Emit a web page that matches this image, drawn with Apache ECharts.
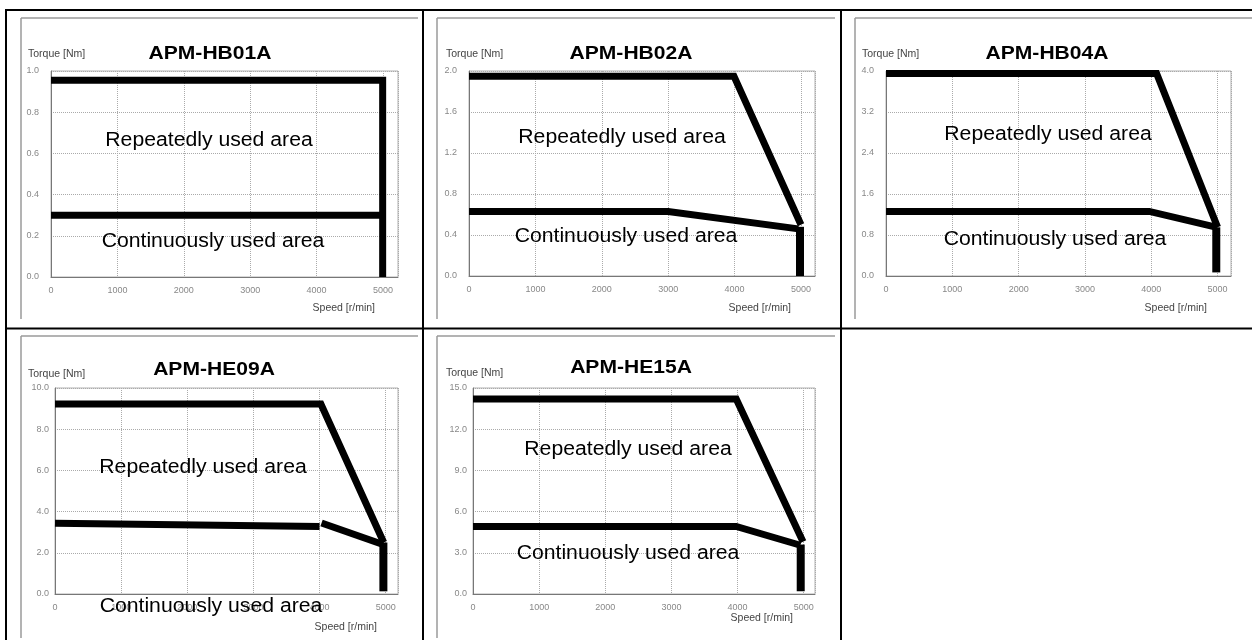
<!DOCTYPE html>
<html>
<head>
<meta charset="utf-8">
<script src="https://cdn.jsdelivr.net/npm/echarts@6/dist/echarts.min.js"></script>
<style>
html,body{margin:0;padding:0;background:#fff;}
#chart{width:1252px;height:640px;}
</style>
</head>
<body>
<div id="chart"></div>
<script>
// ---- data ----
const modelNames = ['APM-HB01A', 'APM-HB02A', 'APM-HB04A', 'APM-HE09A', 'APM-HE15A'];
const torqueMax = [1.0, 2.0, 4.0, 10.0, 15.0];
const torqueInterval = [0.2, 0.4, 0.8, 2.0, 3.0];
const speedInterval = 1000;
const speedTickValues = [0, 1000, 2000, 3000, 4000, 5000];
const yAxisTitle = 'Torque [Nm]';
const xAxisTitle = 'Speed [r/min]';
const repeatedLabel = 'Repeatedly used area';
const continuousLabel = 'Continuously used area';

const hb01Repeated = [[0, 0.955], [4995, 0.955], [4995, 0]];
const hb01Continuous = [[0, 0.30], [4995, 0.30]];

const hb02Repeated = [[0, 1.95], [3990, 1.95], [5000, 0.50]];
const hb02Continuous = [[0, 0.63], [3000, 0.63], [4960, 0.46]];
const hb02Limit = [[4985, 0.48], [4985, 0]];

const hb04Repeated = [[0, 3.95], [4080, 3.95], [5000, 0.95]];
const hb04Continuous = [[0, 1.26], [3970, 1.26], [4990, 0.95]];
const hb04Limit = [[4980, 0.95], [4980, 0.07]];

const he09Repeated = [[0, 9.22], [4020, 9.22], [4970, 2.5]];
const he09Continuous = [[0, 3.43], [4000, 3.28]];
const he09ContinuousDrop = [[4030, 3.45], [4960, 2.4]];
const he09Limit = [[4965, 2.5], [4965, 0.13]];

const he15Repeated = [[0, 14.2], [3980, 14.2], [4990, 3.8]];
const he15Continuous = [[0, 4.92], [3980, 4.92], [4950, 3.55]];
const he15Limit = [[4955, 3.6], [4955, 0.2]];

const chartSeries = [
  [hb01Repeated, hb01Continuous],
  [hb02Repeated, hb02Continuous, hb02Limit],
  [hb04Repeated, hb04Continuous, hb04Limit],
  [he09Repeated, he09Continuous, he09ContinuousDrop, he09Limit],
  [he15Repeated, he15Continuous, he15Limit]
];

// ---- layout (pixels) ----
const grids = [
  {left: 51, top: 71, width: 347, height: 206, xMax: 5226, yMargin: 12},
  {left: 469, top: 71, width: 346, height: 205, xMax: 5211, yMargin: 12},
  {left: 886, top: 71, width: 345, height: 205, xMax: 5202, yMargin: 12},
  {left: 55, top: 388, width: 343, height: 206, xMax: 5186, yMargin: 6},
  {left: 473, top: 388, width: 342, height: 206, xMax: 5171, yMargin: 6}
];
const titlePos = [[210, 54], [631, 54], [1047, 54], [214, 370], [631, 368]];
const yTitlePos = [[28, 54], [446, 54], [862, 54], [28, 374], [446, 373]];
const xTitlePos = [[375, 308], [791, 308], [1207, 308], [377, 627], [793, 618]];
const repPos = [[209, 140], [622, 137], [1048, 134], [203, 467], [628, 449]];
const contPos = [[213, 241], [626, 236], [1055, 239], [211, 606], [628, 553]];

const FONT = '"Liberation Sans", Arial, sans-serif';

const option = {
  animation: false,
  backgroundColor: '#fff',
  grid: [], xAxis: [], yAxis: [], series: [], graphic: []
};

grids.forEach((g, i) => {
  option.grid.push({left: g.left, top: g.top, width: g.width, height: g.height,
    show: true, borderColor: '#b0b0b0', borderWidth: 1, containLabel: false});
  option.xAxis.push({
    type: 'value', gridIndex: i, min: 0, max: g.xMax, interval: speedInterval,
    axisLine: {show: true, onZero: false, lineStyle: {color: '#777', width: 1}},
    axisTick: {show: false},
    axisLabel: {fontSize: 9, color: '#888', margin: 9, fontFamily: FONT,
      formatter: v => speedTickValues.indexOf(v) >= 0 ? String(v) : ''},
    splitLine: {show: true, lineStyle: {type: 'dotted', color: '#aaa', width: 1}}
  });
  option.yAxis.push({
    type: 'value', gridIndex: i, min: 0, max: torqueMax[i], interval: torqueInterval[i],
    axisLine: {show: true, onZero: false, lineStyle: {color: '#777', width: 1}},
    axisTick: {show: false},
    axisLabel: {fontSize: 9, color: '#888', margin: g.yMargin, fontFamily: FONT,
      formatter: v => v.toFixed(1)},
    splitLine: {show: true, lineStyle: {type: 'dotted', color: '#aaa', width: 1}}
  });
  chartSeries[i].forEach(d => {
    const vertical = d.length === 2 && d[0][0] === d[1][0];
    option.series.push({
      type: 'line', xAxisIndex: i, yAxisIndex: i, data: d,
      showSymbol: false, symbol: 'none', clip: false, silent: true,
      lineStyle: {color: '#000', width: vertical ? 8 : 7, join: 'miter', cap: 'butt'}
    });
  });
});

const G = option.graphic;
// table borders
const black = {stroke: '#000', lineWidth: 2};
G.push({type: 'line', shape: {x1: 5, y1: 10, x2: 1252, y2: 10}, style: black});
G.push({type: 'line', shape: {x1: 6, y1: 10, x2: 6, y2: 640}, style: black});
G.push({type: 'line', shape: {x1: 423, y1: 10, x2: 423, y2: 640}, style: black});
G.push({type: 'line', shape: {x1: 841, y1: 10, x2: 841, y2: 640}, style: black});
G.push({type: 'line', shape: {x1: 6, y1: 328.5, x2: 1252, y2: 328.5}, style: black});
// picture frames (top + left edges)
const frames = [[21, 18, 418, 319], [437, 18, 835, 319], [855, 18, 1252, 319], [21, 336, 418, 638], [437, 336, 835, 638]];
const gray = {stroke: '#9a9a9a', lineWidth: 1.5};
frames.forEach(f => {
  G.push({type: 'line', shape: {x1: f[0], y1: f[1], x2: f[2], y2: f[1]}, style: gray});
  G.push({type: 'line', shape: {x1: f[0], y1: f[1], x2: f[0], y2: f[3]}, style: gray});
});

function txt(t, x, y, font, align, sx, fill) {
  G.push({type: 'text', x: x, y: y, scaleX: sx || 1, z: 100,
    style: {text: t, x: 0, y: 0, font: font, fill: fill || '#000',
      textAlign: align || 'center', textVerticalAlign: 'middle'}});
}
modelNames.forEach((name, i) => {
  txt(name, titlePos[i][0], titlePos[i][1], 'bold 18px ' + FONT, 'center', 1.17);
  txt(yAxisTitle, yTitlePos[i][0], yTitlePos[i][1], '10.5px ' + FONT, 'left', 1, '#444');
  txt(xAxisTitle, xTitlePos[i][0], xTitlePos[i][1], '10.5px ' + FONT, 'right', 1, '#444');
  txt(repeatedLabel, repPos[i][0], repPos[i][1], '20px ' + FONT, 'center', 1.06);
  txt(continuousLabel, contPos[i][0], contPos[i][1], '20px ' + FONT, 'center', 1.06);
});

const chart = echarts.init(document.getElementById('chart'), null, {renderer: 'canvas'});
chart.setOption(option);
</script>
</body>
</html>
